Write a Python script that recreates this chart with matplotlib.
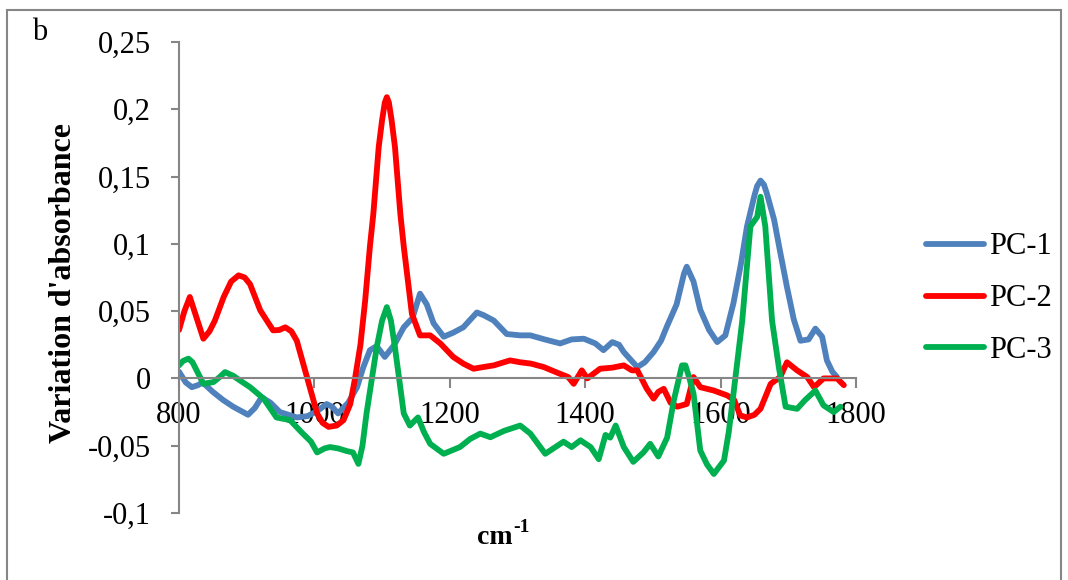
import matplotlib
matplotlib.use('Agg')
import matplotlib.pyplot as plt
from matplotlib.patches import Rectangle
from matplotlib.ticker import FuncFormatter

plt.rcParams['font.family'] = 'Liberation Serif'

# PC-1
bx = [800, 810, 819, 828, 835, 850, 865, 880, 902, 912, 922, 935, 949, 974, 990,
      1005, 1018, 1026, 1035, 1050, 1063, 1072, 1082, 1092, 1104, 1118, 1132, 1145, 1156, 1166,
      1176, 1191, 1205, 1220, 1240, 1250, 1265, 1284, 1304, 1319, 1340, 1363, 1380, 1398, 1415,
      1427, 1440, 1450, 1457, 1467, 1477, 1488, 1501, 1512, 1521, 1535, 1546, 1550, 1560, 1570,
      1583, 1595, 1607, 1619, 1630, 1639, 1650, 1654, 1659, 1664, 1668, 1679, 1688, 1698, 1708,
      1718, 1730, 1740, 1750, 1757, 1765, 1772]
by = [0.005, -0.003, -0.0065, -0.005, -0.003, -0.01, -0.016, -0.021, -0.027, -0.022,
      -0.014, -0.018, -0.025, -0.029, -0.028, -0.024, -0.019, -0.021, -0.026, -0.018,
      -0.0065, 0.008, 0.021, 0.024, 0.016, 0.025, 0.038, 0.045, 0.063, 0.055,
      0.041, 0.031, 0.034, 0.038, 0.049, 0.047, 0.043, 0.033, 0.032, 0.032,
      0.029, 0.026, 0.029, 0.0295, 0.026, 0.021, 0.027, 0.025, 0.0196, 0.014,
      0.0084, 0.012, 0.0196, 0.028, 0.039, 0.055, 0.078, 0.083, 0.072, 0.051,
      0.036, 0.027, 0.032, 0.056, 0.085, 0.113, 0.136, 0.143, 0.147, 0.144, 0.138,
      0.118, 0.094, 0.068, 0.044, 0.028, 0.029, 0.037, 0.031, 0.0134, 0.005, 0.001]

# PC-2
rx = [800, 808, 816, 826, 836, 845, 853, 866, 877, 888, 897, 905, 920, 939, 948,
      957, 966, 974, 989, 1004, 1012, 1021, 1033, 1043, 1053, 1060, 1068, 1075, 1082, 1087,
      1095, 1100, 1104, 1107, 1110, 1114, 1119, 1127, 1132, 1144, 1156, 1171, 1186, 1205, 1220,
      1235, 1250, 1265, 1289, 1304, 1320, 1339, 1360, 1375, 1383, 1395, 1403, 1422, 1440, 1457,
      1469, 1477, 1491, 1501, 1508, 1516, 1526, 1536, 1550, 1560, 1570, 1590, 1610, 1620, 1629,
      1639, 1650, 1659, 1674, 1688, 1698, 1713, 1728, 1738, 1752, 1772, 1782]
ry = [0.036, 0.05, 0.0605, 0.045, 0.0295, 0.035, 0.043, 0.0605, 0.072, 0.0766,
      0.075, 0.07, 0.0506, 0.0357, 0.036, 0.038, 0.035, 0.028, 0.001, -0.026,
      -0.033, -0.036, -0.035, -0.031, -0.019, 0.0, 0.025, 0.058, 0.098, 0.122,
      0.172, 0.192, 0.205, 0.209, 0.205, 0.192, 0.172, 0.122, 0.098, 0.048,
      0.032, 0.032, 0.026, 0.016, 0.011, 0.0072, 0.0085, 0.0097, 0.0134, 0.012,
      0.011, 0.0084, 0.004, 0.001, -0.004, 0.006, 0.0, 0.0072, 0.008, 0.0097,
      0.006, 0.006, -0.0077, -0.015, -0.01, -0.0077, -0.018, -0.021, -0.019, 0.001,
      -0.0065, -0.009, -0.0127, -0.016, -0.0275, -0.029, -0.027, -0.0225, -0.004, 0.001,
      0.012, 0.006, 0.001, -0.0065, 0.0, 0.0, -0.005]

# PC-3
gx = [800, 806, 814, 820, 826, 836, 851, 860, 868, 880, 890, 905, 925, 944, 964,
      981, 995, 1004, 1015, 1023, 1035, 1048, 1057, 1065, 1071, 1077, 1092, 1100, 1107, 1113,
      1119, 1132, 1141, 1153, 1162, 1171, 1191, 1215, 1230, 1245, 1260, 1280, 1304, 1319, 1341,
      1368, 1380, 1393, 1408, 1420, 1430, 1437, 1445, 1457, 1471, 1486, 1496, 1508, 1521, 1531,
      1543, 1548, 1554, 1560, 1570, 1580, 1590, 1605, 1612, 1619, 1632, 1644, 1654, 1659, 1666,
      1676, 1686, 1696, 1713, 1725, 1740, 1752, 1767, 1777]
gy = [0.0097, 0.013, 0.0147, 0.012, 0.006, -0.004, -0.0027, 0.001, 0.0047, 0.002,
      -0.0015, -0.0065, -0.015, -0.029, -0.031, -0.04, -0.047, -0.055, -0.052, -0.051,
      -0.052, -0.054, -0.055, -0.0635, -0.05, -0.026, 0.023, 0.043, 0.053, 0.043,
      0.023, -0.026, -0.035, -0.029, -0.04, -0.0486, -0.056, -0.051, -0.045, -0.041,
      -0.0437, -0.039, -0.035, -0.041, -0.056, -0.047, -0.051, -0.046, -0.051, -0.06,
      -0.042, -0.044, -0.035, -0.051, -0.062, -0.055, -0.0486, -0.058, -0.044, -0.016,
      0.0097, 0.0097, 0.0, -0.0114, -0.0536, -0.064, -0.071, -0.061, -0.04, -0.0114,
      0.043, 0.113, 0.12, 0.135, 0.113, 0.043, 0.0084, -0.021, -0.0226, -0.016,
      -0.009, -0.02, -0.025, -0.021]

xticks = [800, 1000, 1200, 1400, 1600, 1800]
yticks = [-0.1, -0.05, 0, 0.05, 0.1, 0.15, 0.2, 0.25]

fig = plt.figure(figsize=(10.68, 5.80), dpi=100)
ax = fig.add_axes([179 / 1068, 1 - 513 / 580, (856 - 179) / 1068, (513 - 42) / 580])

ax.plot(bx, by, color='#4F81BD', lw=4.2, label='PC-1', solid_capstyle='round')
ax.plot(rx, ry, color='#FF0000', lw=4.2, label='PC-2', solid_capstyle='round')
ax.plot(gx, gy, color='#00B050', lw=4.2, label='PC-3', solid_capstyle='round')

ax.set_xlim(800, 1800)
ax.set_ylim(-0.1, 0.25)
ax.set_xticks(xticks)
ax.set_yticks(yticks)
ax.yaxis.set_major_formatter(FuncFormatter(lambda v, p: ('%g' % round(v, 3)).replace('.', ',')))

ax.spines['top'].set_visible(False)
ax.spines['right'].set_visible(False)
ax.spines['bottom'].set_position(('data', 0))
for s in ['left', 'bottom']:
    ax.spines[s].set_color('#868686')
    ax.spines[s].set_linewidth(1.5)
ax.tick_params(axis='y', direction='out', length=6, width=1.5, color='#868686',
               labelsize=22, pad=14)
ax.tick_params(axis='x', direction='out', length=7, width=1.5, color='#868686',
               labelsize=22, pad=9)

fig.text(64 / 1068, 1 - 283 / 580, "Variation d'absorbance", fontsize=23, fontweight='bold',
         rotation=90, ha='center', va='center')
fig.text(513 / 1068, 1 - 537 / 580, 'cm', fontsize=20, fontweight='bold', ha='right', va='center')
fig.text(513 / 1068, 1 - 528 / 580, '-1', fontsize=14, fontweight='bold', ha='left', va='center')
fig.text(32 / 1068, 1 - 33 / 580, 'b', fontsize=22, va='center')

ax.legend(loc='center left', bbox_to_anchor=(1.063, 0.455), frameon=False, fontsize=22,
          handlelength=1.9, handletextpad=0.15, labelspacing=0.75)

fig.patches.append(Rectangle((7 / 1068, -0.05), (1061 - 7) / 1068, 1 - 10 / 580 + 0.05,
                             transform=fig.transFigure, fill=False, edgecolor='#868686', lw=1.5))

fig.savefig('out.png', dpi=100)
